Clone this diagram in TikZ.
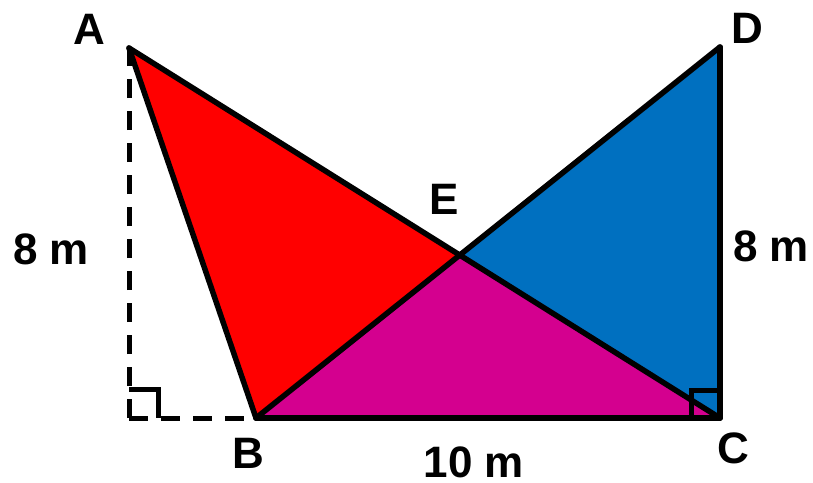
\documentclass[tikz,border=0pt]{standalone}
\usepackage{fontspec}
\setmainfont{Liberation Sans}
\usetikzlibrary{calc}
\definecolor{tred}{HTML}{FF0000}
\definecolor{tmag}{HTML}{D4008F}
\definecolor{tblue}{HTML}{0070C0}
\begin{document}
\begin{tikzpicture}[x=1pt,y=-1pt,
  edge/.style={line width=5.5pt,line join=round,line cap=round},
  dash5/.style={line width=5pt,dash pattern=on 19pt off 13pt},
  lbl/.style={font=\fontsize{44}{44}\selectfont\bfseries,inner sep=0pt,text depth=0pt}]
\useasboundingbox (0,0) rectangle (813,482);
\coordinate (A) at (129,48);
\coordinate (B) at (256,418);
\coordinate (C) at (720,418);
\coordinate (D) at (720,47);
\coordinate (E) at (460,255);
\coordinate (F) at (129,418);
\fill[tred] (A) -- (B) -- (E) -- cycle;
\fill[tmag] (B) -- (C) -- (E) -- cycle;
\fill[tblue] (E) -- (C) -- (D) -- cycle;
\draw[dash5] (F) -- (A);
\draw[dash5] (F) -- (B);
\draw[line width=5pt] ($(F)+(0,-29)$) -- ++(29,0) -- ++(0,29);
\draw[line width=5pt] ($(C)+(-29,0)$) -- ++(0,-28) -- ++(29,0);
\draw[edge] (A) -- (B);
\draw[edge] (A) -- (C);
\draw[edge] (B) -- (D);
\draw[edge] (D) -- (C);
\draw[edge] (B) -- (C);
\node[lbl] (lA) at (89,29) {A};
\node[lbl] (lB) at (248,453) {B};
\node[lbl] (lC) at (733,448) {C};
\node[lbl] (lD) at (747,28) {D};
\node[lbl] (lE) at (444,199) {E};
\node[lbl] (l8a) at (51,249) {8 m};
\node[lbl] (l8b) at (771,246) {8 m};
\node[lbl] (l10) at (474,462) {10 m};
\end{tikzpicture}
\end{document}
